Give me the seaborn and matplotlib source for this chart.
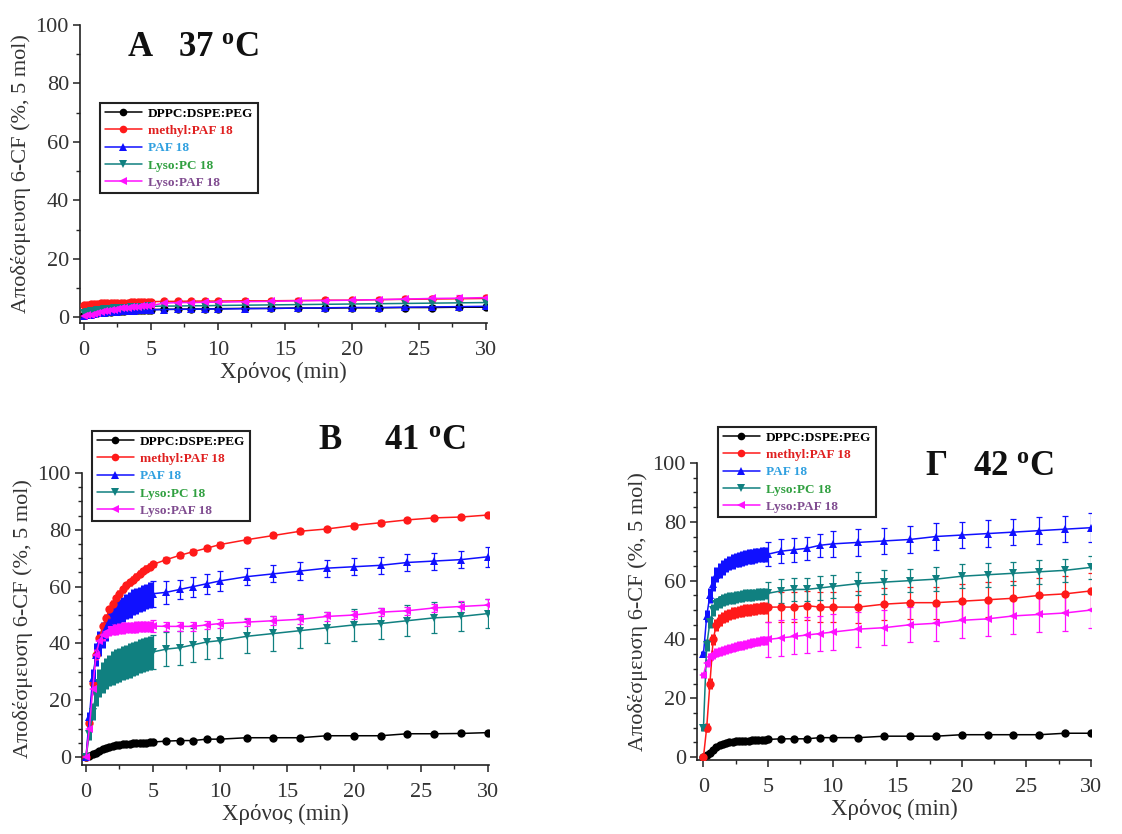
import matplotlib
matplotlib.use("Agg")
import matplotlib.pyplot as plt
from matplotlib.lines import Line2D
from matplotlib.ticker import MultipleLocator
import seaborn as sns
import pandas as pd

# ---------------- data ----------------
TIME = [0, 0.25, 0.5, 0.75, 1, 1.25, 1.5, 1.75, 2, 2.25, 2.5, 2.75, 3, 3.25, 3.5, 3.75, 4, 4.25, 4.5, 4.75, 5,
        6, 7, 8, 9, 10, 12, 14, 16, 18, 20, 22, 24, 26, 28, 30]

SERIES = ["DPPC:DSPE:PEG", "methyl:PAF 18", "PAF 18", "Lyso:PC 18", "Lyso:PAF 18"]

# Panel A (37 oC)
A_DPPC = [0.8, 1.0, 1.2, 1.3, 1.5, 1.6, 1.7, 1.8, 1.9, 2.0, 2.1, 2.2, 2.2, 2.3, 2.3, 2.4, 2.4, 2.5, 2.5, 2.6, 2.6,
          2.7, 2.7, 2.8, 2.8, 2.9, 3.0, 3.0, 3.1, 3.1, 3.2, 3.2, 3.3, 3.3, 3.4, 3.4]
A_DPPC_ERR = [0.2, 0.2, 0.2, 0.2, 0.3, 0.3, 0.3, 0.3, 0.3, 0.3, 0.3, 0.3, 0.3, 0.3, 0.3, 0.3, 0.3, 0.3, 0.3, 0.3, 0.3,
              0.3, 0.3, 0.3, 0.3, 0.3, 0.3, 0.3, 0.3, 0.3, 0.3, 0.3, 0.3, 0.3, 0.3, 0.4]
A_METHYL = [4.2, 4.3, 4.4, 4.5, 4.6, 4.7, 4.7, 4.8, 4.8, 4.9, 4.9, 5.0, 5.0, 5.0, 5.1, 5.1, 5.1, 5.2, 5.2, 5.2, 5.3,
            5.4, 5.4, 5.5, 5.5, 5.5, 5.6, 5.6, 5.7, 5.8, 5.8, 6.0, 6.1, 6.2, 6.3, 6.4]
A_METHYL_ERR = [0.5, 0.5, 0.5, 0.5, 0.5, 0.5, 0.5, 0.5, 0.5, 0.5, 0.5, 0.5, 0.5, 0.5, 0.5, 0.5, 0.5, 0.5, 0.5, 0.5, 0.5,
                0.5, 0.5, 0.5, 0.5, 0.5, 0.5, 0.5, 0.5, 0.5, 0.5, 0.5, 0.5, 0.5, 0.5, 0.5]
A_PAF = [0.5, 0.7, 0.9, 1.1, 1.3, 1.4, 1.5, 1.6, 1.7, 1.8, 1.9, 2.0, 2.0, 2.1, 2.2, 2.2, 2.3, 2.3, 2.4, 2.4, 2.5,
         2.6, 2.7, 2.7, 2.8, 2.8, 2.9, 3.0, 3.1, 3.2, 3.3, 3.3, 3.4, 3.5, 3.6, 3.7]
A_PAF_ERR = [0.3, 0.3, 0.3, 0.3, 0.3, 0.3, 0.3, 0.3, 0.3, 0.3, 0.3, 0.3, 0.3, 0.3, 0.3, 0.3, 0.3, 0.3, 0.3, 0.3, 0.3,
             0.4, 0.4, 0.4, 0.4, 0.4, 0.4, 0.4, 0.4, 0.4, 0.4, 0.4, 0.4, 0.4, 0.4, 0.4]
A_LYSOPC = [1.5, 1.8, 2.0, 2.2, 2.4, 2.6, 2.7, 2.8, 2.9, 3.0, 3.1, 3.2, 3.3, 3.3, 3.4, 3.5, 3.5, 3.6, 3.6, 3.7, 3.7,
            3.8, 3.8, 3.9, 3.9, 4.0, 4.1, 4.2, 4.3, 4.4, 4.5, 4.6, 4.7, 4.8, 4.9, 5.0]
A_LYSOPC_ERR = [0.4, 0.4, 0.4, 0.4, 0.4, 0.4, 0.4, 0.4, 0.4, 0.4, 0.4, 0.4, 0.4, 0.4, 0.4, 0.4, 0.4, 0.4, 0.4, 0.4, 0.4,
                0.5, 0.5, 0.5, 0.5, 0.5, 0.5, 0.5, 0.5, 0.5, 0.5, 0.5, 0.5, 0.5, 0.5, 0.5]
A_LYSOPAF = [0.3, 0.6, 0.9, 1.2, 1.5, 1.8, 2.0, 2.2, 2.4, 2.6, 2.8, 3.0, 3.1, 3.3, 3.4, 3.5, 3.6, 3.7, 3.8, 3.9, 4.0,
             4.8, 5.0, 5.0, 5.1, 5.1, 5.3, 5.4, 5.6, 5.7, 5.8, 6.0, 6.2, 6.4, 6.5, 6.7]
A_LYSOPAF_ERR = [0.5, 0.5, 0.5, 0.5, 0.5, 0.5, 0.5, 0.5, 0.5, 0.5, 0.5, 0.5, 0.5, 0.5, 0.5, 0.5, 0.5, 0.5, 0.5, 0.5, 0.6,
                 0.8, 0.8, 0.8, 0.8, 0.8, 0.8, 0.8, 0.9, 0.9, 0.9, 0.9, 1.0, 1.0, 1.0, 1.0]

# Panel B (41 oC)
B_DPPC = [0, 0.4, 0.9, 1.5, 2.2, 2.7, 3.2, 3.6, 3.9, 4.1, 4.3, 4.5, 4.6, 4.7, 4.8, 4.9, 5.0, 5.1, 5.1, 5.2, 5.3,
          5.6, 5.8, 5.8, 6.3, 6.3, 6.8, 6.8, 6.8, 7.5, 7.5, 7.5, 8.2, 8.2, 8.3, 8.6]
B_DPPC_ERR = [0.2, 0.2, 0.3, 0.3, 0.4, 0.4, 0.4, 0.4, 0.4, 0.4, 0.4, 0.4, 0.4, 0.4, 0.4, 0.4, 0.4, 0.4, 0.4, 0.4, 0.4,
              0.4, 0.4, 0.4, 0.4, 0.4, 0.4, 0.4, 0.4, 0.4, 0.4, 0.4, 0.4, 0.4, 0.4, 0.5]
B_METHYL = [0, 12, 26, 36, 42, 46, 49, 52, 54, 56, 57.5, 59, 60.5, 61.5, 62.5, 63.5, 64.5, 65.5, 66.3, 67, 67.8,
            69.5, 71, 72.3, 73.5, 74.8, 76.5, 78, 79.5, 80.3, 81.5, 82.5, 83.5, 84.2, 84.5, 85.2]
B_METHYL_ERR = [0.5, 0.8, 1.0, 1.2, 1.2, 1.2, 1.2, 1.2, 1.2, 1.2, 1.2, 1.2, 1.2, 1.2, 1.2, 1.2, 1.2, 1.2, 1.2, 1.2, 1.0,
                0.8, 0.8, 0.8, 0.8, 0.8, 0.8, 0.8, 0.8, 0.8, 0.8, 0.8, 0.8, 0.8, 0.8, 0.8]
B_PAF = [0, 14, 28, 36, 40, 43, 45.5, 47.5, 49, 50, 51, 52, 53, 53.5, 54.5, 55, 55.5, 56, 56.5, 57, 57.5,
         58, 59, 60, 61, 62, 63.5, 64.5, 65.5, 66.5, 67, 67.5, 68.5, 69, 69.5, 70.5]
B_PAF_ERR = [0, 2, 3, 4, 4.5, 4.5, 4.5, 4.5, 4.5, 4.5, 4.5, 4.5, 4.5, 4.5, 4.5, 4.5, 4.5, 4.5, 4.5, 4.5, 4.5,
             4.0, 3.5, 3.5, 3.5, 3.5, 3.0, 3.0, 3.0, 3.0, 3.0, 3.0, 3.0, 3.0, 3.0, 3.5]
B_LYSOPC = [0, 8, 16, 22, 26, 28, 29.5, 30.5, 31.5, 32, 32.5, 33, 33.5, 34, 34.5, 35, 35.5, 36, 36.3, 36.7, 37,
            38, 38.5, 39.5, 40.5, 41, 42.5, 43.5, 44.5, 45.5, 46.5, 47, 48, 49, 49.5, 50.5]
B_LYSOPC_ERR = [0, 2, 3, 4, 5, 5.5, 5.5, 5.5, 6, 6, 6, 6, 6, 6, 6, 6, 6, 6, 6, 6, 6,
                6, 6, 6, 6, 6, 6, 6, 6, 5.5, 5.5, 5.5, 5.5, 5.5, 5, 5]
B_LYSOPAF = [0, 10, 24, 36, 41, 43, 44, 44.5, 45, 45, 45.2, 45.4, 45.5, 45.6, 45.7, 45.8, 45.9, 46, 46, 46, 46.1,
             46, 46, 46, 46.5, 47, 47.5, 48, 48.5, 49.5, 50, 51, 51.5, 52.5, 53, 53.5]
B_LYSOPAF_ERR = [0, 1, 2, 2, 2, 2, 2, 2, 2, 2, 2, 2, 2, 2, 2, 2, 2, 2, 2, 2, 2,
                 1.5, 1.5, 1.5, 1.5, 1.5, 1.5, 1.5, 1.5, 1.5, 1.5, 1.5, 1.5, 1.5, 2, 2]

# Panel Γ (42 oC)
G_DPPC = [0, 0.7, 1.5, 2.5, 3.5, 4.1, 4.5, 4.8, 5.0, 5.1, 5.3, 5.4, 5.5, 5.5, 5.6, 5.7, 5.8, 5.8, 5.9, 5.9, 6.0,
          6.2, 6.2, 6.2, 6.6, 6.6, 6.6, 7.1, 7.1, 7.1, 7.6, 7.6, 7.6, 7.6, 8.1, 8.1]
G_DPPC_ERR = [0.2, 0.3, 0.3, 0.4, 0.4, 0.4, 0.4, 0.4, 0.4, 0.4, 0.4, 0.4, 0.4, 0.4, 0.4, 0.4, 0.4, 0.4, 0.4, 0.4, 0.4,
              0.4, 0.4, 0.4, 0.4, 0.4, 0.4, 0.4, 0.4, 0.4, 0.4, 0.4, 0.4, 0.4, 0.4, 0.4]
G_METHYL = [0, 10, 25, 40, 45, 46.5, 47.5, 48, 48.5, 49, 49.2, 49.5, 49.7, 49.9, 50, 50.2, 50.4, 50.5, 50.6, 50.8, 51,
            51, 51, 51.5, 51, 51, 51, 52, 52.5, 52.5, 53, 53.5, 54, 55, 55.5, 56.5]
G_METHYL_ERR = [0, 1.5, 2, 2, 2, 2, 2, 2, 2, 2, 2, 2, 2, 2, 2, 2, 2, 2, 2, 2, 5,
                5, 5, 5, 5, 5, 5.5, 5.5, 5.5, 5.5, 6, 6, 6, 6, 6, 6]
G_PAF = [35, 48, 55, 59, 62, 63.5, 64.5, 65.3, 66, 66.5, 67, 67.3, 67.6, 67.9, 68.1, 68.3, 68.5, 68.7, 68.8, 68.9, 69,
         70, 70.5, 71, 72, 72.5, 73, 73.5, 74, 75, 75.5, 76, 76.5, 77, 77.5, 78]
G_PAF_ERR = [1, 2, 2.5, 2.5, 2.5, 2.5, 2.5, 2.5, 2.5, 2.5, 2.5, 2.5, 2.5, 2.5, 2.5, 2.5, 2.5, 2.5, 2.5, 2.5, 4,
             4, 4, 4, 4, 4.5, 4.5, 4.5, 4.5, 4.5, 4.5, 4.5, 4.5, 4.5, 4.5, 5]
G_LYSOPC = [10, 38, 46, 50, 52, 52.8, 53.3, 53.7, 54, 54.2, 54.4, 54.6, 54.8, 55, 55.1, 55.2, 55.3, 55.4, 55.5, 55.6, 55.7,
            56.5, 57, 57, 57.5, 58, 59, 59.5, 60, 60.5, 61.5, 62, 62.5, 63, 63.5, 64.5]
G_LYSOPC_ERR = [1, 2, 2, 2, 2, 2, 2, 2, 2, 2, 2, 2, 2, 2, 2, 2, 2, 2, 2, 2, 4,
                4, 4, 4, 4, 4, 4, 4, 4, 4, 4, 4, 4, 4, 4, 4]
G_LYSOPAF = [28, 32, 34, 35, 35.5, 36, 36.3, 36.6, 36.9, 37.2, 37.5, 37.8, 38, 38.3, 38.6, 38.9, 39.1, 39.3, 39.5, 39.7, 40,
             40.5, 41, 41.5, 42, 42.5, 43.5, 44, 45, 45.5, 46.5, 47, 48, 48.5, 49, 50]
G_LYSOPAF_ERR = [1, 1.5, 1.5, 1.5, 1.5, 1.5, 1.5, 1.5, 1.5, 1.5, 1.5, 1.5, 1.5, 1.5, 1.5, 1.5, 1.5, 1.5, 1.5, 1.5, 6,
                 6, 6, 6, 6, 6, 6, 6, 6, 6, 6, 6, 6, 6, 6, 6]

X_TICKS = [0, 5, 10, 15, 20, 25, 30]
Y_TICKS = [0, 20, 40, 60, 80, 100]
X_LABEL = "Χρόνος (min)"
Y_LABEL = "Αποδέσμευση 6-CF (%, 5 mol)"
TITLES = ["A   37 $^{\\mathregular{o}}$C", "B     41 $^{\\mathregular{o}}$C", "Γ   42 $^{\\mathregular{o}}$C"]

# ---------------- style ----------------
LINE_COLORS = ["#000000", "#ff1a1a", "#1010ff", "#108080", "#ff10ff"]
TEXT_COLORS = ["#000000", "#e02020", "#30a0e0", "#30a040", "#804c90"]
MARKERS = ["o", "o", "^", "v", "<"]
DENSE_N = 21  # number of closely spaced early readings (0-5 min)

sns.set_theme(style="ticks")
plt.rcParams["font.family"] = ["Liberation Serif", "DejaVu Serif"]
plt.rcParams["mathtext.fontset"] = "custom"
plt.rcParams["mathtext.rm"] = "Liberation Serif"
plt.rcParams["mathtext.default"] = "regular"

fig = plt.figure(figsize=(11.22, 8.34), dpi=100)
W, H = 1122, 834


def rect(l, t, r, b):
    return [l / W, 1 - b / H, (r - l) / W, (b - t) / H]


panels = [
    dict(rect=rect(80, 25, 487, 323), ylim=(-2, 100), xlim=(-0.3, 30.1), yminor=10,
         data=[(A_DPPC, A_DPPC_ERR), (A_METHYL, A_METHYL_ERR), (A_PAF, A_PAF_ERR),
               (A_LYSOPC, A_LYSOPC_ERR), (A_LYSOPAF, A_LYSOPAF_ERR)],
         legend=(100, 103), title=(127, 47), title_text=TITLES[0]),
    dict(rect=rect(82, 473, 489, 765), ylim=(-2.8, 100), xlim=(-0.3, 30.1), yminor=5,
         data=[(B_DPPC, B_DPPC_ERR), (B_METHYL, B_METHYL_ERR), (B_PAF, B_PAF_ERR),
               (B_LYSOPC, B_LYSOPC_ERR), (B_LYSOPAF, B_LYSOPAF_ERR)],
         legend=(92, 431), title=(318, 440), title_text=TITLES[1]),
    dict(rect=rect(697, 463, 1091, 760), ylim=(-1, 100), xlim=(-0.5, 30.0), yminor=5,
         data=[(G_DPPC, G_DPPC_ERR), (G_METHYL, G_METHYL_ERR), (G_PAF, G_PAF_ERR),
               (G_LYSOPC, G_LYSOPC_ERR), (G_LYSOPAF, G_LYSOPAF_ERR)],
         legend=(718, 427), title=(925, 467), title_text=TITLES[2]),
]

for p in panels:
    ax = fig.add_axes(p["rect"])
    for (vals, err), color, marker, name in zip(p["data"], LINE_COLORS, MARKERS, SERIES):
        df = pd.DataFrame({"t": TIME, "v": vals})
        # dense early readings: error bars merge into a solid band
        ax.errorbar(TIME[:DENSE_N - 1], vals[:DENSE_N - 1], yerr=err[:DENSE_N - 1], fmt="none",
                    ecolor=color, elinewidth=3.6, capsize=0, zorder=2)
        ax.errorbar(TIME[DENSE_N - 1:], vals[DENSE_N - 1:], yerr=err[DENSE_N - 1:], fmt="none",
                    ecolor=color, elinewidth=0.9, capsize=2.0, capthick=0.9, zorder=2)
        sns.lineplot(data=df, x="t", y="v", ax=ax, color=color, marker=marker,
                     markersize=6, markeredgewidth=0, linewidth=1.1, sort=False,
                     estimator=None, errorbar=None, zorder=3)
    ax.set_xlim(*p["xlim"])
    ax.set_ylim(*p["ylim"])
    ax.set_xticks(X_TICKS)
    ax.set_yticks(Y_TICKS)
    ax.xaxis.set_minor_locator(MultipleLocator(2.5))
    ax.yaxis.set_minor_locator(MultipleLocator(p["yminor"]))
    ax.tick_params(axis="both", which="major", direction="out", length=5, width=1.1,
                   labelsize=16, colors="#222222", pad=3)
    ax.tick_params(axis="x", which="major", pad=8)
    ax.tick_params(axis="both", which="minor", direction="out", length=3, width=1.0)
    for lab in ax.get_xticklabels() + ax.get_yticklabels():
        lab.set_color("#333333")
    sns.despine(ax=ax)
    for s in ["left", "bottom"]:
        ax.spines[s].set_linewidth(1.2)
        ax.spines[s].set_color("#222222")
    ax.set_xlabel(X_LABEL, fontsize=16.5, color="#333333", labelpad=1)
    ax.set_ylabel(Y_LABEL, fontsize=16, color="#333333", labelpad=3)

    handles = [Line2D([0], [0], color=c, marker=m, markersize=5.5, linewidth=1.1, markeredgewidth=0)
               for c, m in zip(LINE_COLORS, MARKERS)]
    lx, ly = p["legend"]
    leg = ax.legend(handles, SERIES, loc="upper left", bbox_to_anchor=(lx / W, 1 - ly / H),
                    bbox_transform=fig.transFigure, frameon=True, fancybox=False,
                    prop={"weight": "bold", "size": 9.5}, handlelength=2.8,
                    handletextpad=0.5, labelspacing=0.38, borderpad=0.35, borderaxespad=0)
    leg.get_frame().set_edgecolor("#222222")
    leg.get_frame().set_linewidth(1.5)
    leg.get_frame().set_alpha(1)
    for txt, c in zip(leg.get_texts(), TEXT_COLORS):
        txt.set_color(c)

    tx, ty = p["title"]
    fig.text(tx / W, 1 - ty / H, p["title_text"], fontsize=25, fontweight="bold",
             ha="left", va="center", color="#111111")

fig.savefig("out.png", dpi=100)
